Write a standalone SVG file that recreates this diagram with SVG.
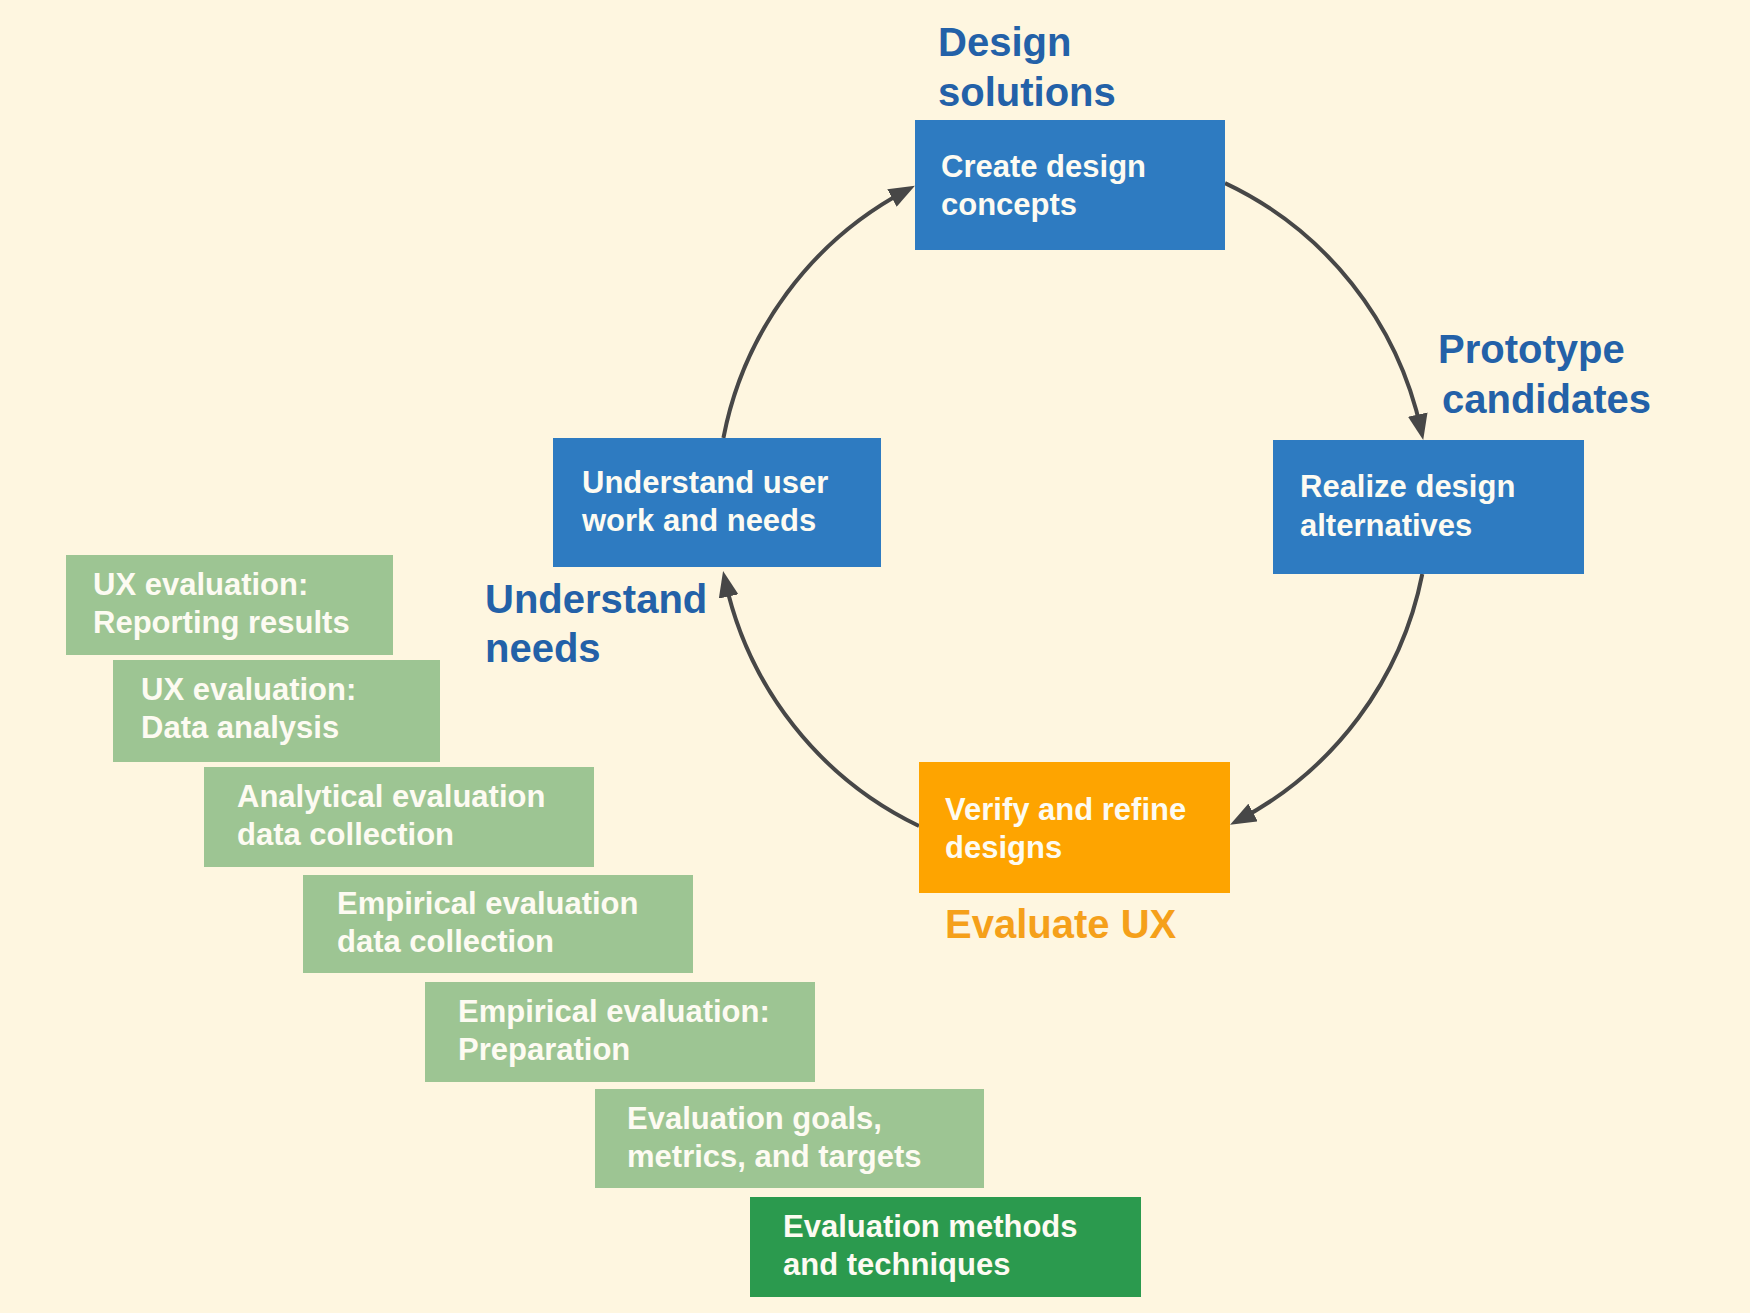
<svg xmlns="http://www.w3.org/2000/svg" width="1750" height="1313" viewBox="0 0 1750 1313">
  <defs>
    <marker id="arrow" markerUnits="userSpaceOnUse" markerWidth="26" markerHeight="20" viewBox="0 0 26 20" refX="16" refY="10" orient="auto">
      <path d="M0,0 L26,10 L0,20 Z" fill="#474747"/>
    </marker>
    <style>
      .bg { fill: #FEF6E0; }
      .blue { fill: #2E7BC1; }
      .orange { fill: #FEA400; }
      .lgreen { fill: #9DC593; }
      .dgreen { fill: #2B9A4E; }
      .t { font-family: "Liberation Sans", Arial, sans-serif; font-weight: bold; font-size: 31px; fill: #FDFBF2; }
      .lbl { font-family: "Liberation Sans", Arial, sans-serif; font-weight: bold; font-size: 40px; }
      .lblue { fill: #2361A8; }
      .lorange { fill: #F5A01A; }
      .conn { fill: none; stroke: #474747; stroke-width: 4; marker-end: url(#arrow); }
    </style>
  </defs>
  <rect class="bg" x="0" y="0" width="1750" height="1313"/>

  <g id="connectors">
    <path class="conn" d="M723.4,438 A356,356 0 0 1 906.1,190.5"/>
    <path class="conn" d="M1225,183.1 A356,356 0 0 1 1421.1,430.2"/>
    <path class="conn" d="M1422.3,574 A356,356 0 0 1 1238.9,820"/>
    <path class="conn" d="M919,826 A356,356 0 0 1 725.2,580.8"/>
  </g>

  <g id="label-design-solutions">
    <text class="lbl lblue" x="938" y="56">Design</text>
    <text class="lbl lblue" x="938" y="106">solutions</text>
  </g>
  <g id="label-prototype-candidates">
    <text class="lbl lblue" x="1438" y="363">Prototype</text>
    <text class="lbl lblue" x="1442" y="413">candidates</text>
  </g>
  <g id="label-understand-needs">
    <text class="lbl lblue" x="485" y="613">Understand</text>
    <text class="lbl lblue" x="485" y="662">needs</text>
  </g>
  <g id="label-evaluate-ux">
    <text class="lbl lorange" x="945" y="938">Evaluate UX</text>
  </g>

  <g id="node-create">
    <rect class="blue" x="915" y="120" width="310" height="130"/>
    <text class="t" x="941" y="177">Create design</text>
    <text class="t" x="941" y="215">concepts</text>
  </g>
  <g id="node-realize">
    <rect class="blue" x="1273" y="440" width="311" height="134"/>
    <text class="t" x="1300" y="497">Realize design</text>
    <text class="t" x="1300" y="536">alternatives</text>
  </g>
  <g id="node-understand">
    <rect class="blue" x="553" y="438" width="328" height="129"/>
    <text class="t" x="582" y="493">Understand user</text>
    <text class="t" x="582" y="531">work and needs</text>
  </g>
  <g id="node-verify">
    <rect class="orange" x="919" y="762" width="311" height="131"/>
    <text class="t" x="945" y="820">Verify and refine</text>
    <text class="t" x="945" y="858">designs</text>
  </g>

  <g id="node-reporting">
    <rect class="lgreen" x="66" y="555" width="327" height="100"/>
    <text class="t" x="93" y="595">UX evaluation:</text>
    <text class="t" x="93" y="633">Reporting results</text>
  </g>
  <g id="node-analysis">
    <rect class="lgreen" x="113" y="660" width="327" height="102"/>
    <text class="t" x="141" y="700">UX evaluation:</text>
    <text class="t" x="141" y="738">Data analysis</text>
  </g>
  <g id="node-analytical">
    <rect class="lgreen" x="204" y="767" width="390" height="100"/>
    <text class="t" x="237" y="807">Analytical evaluation</text>
    <text class="t" x="237" y="845">data collection</text>
  </g>
  <g id="node-empirical-collection">
    <rect class="lgreen" x="303" y="875" width="390" height="98"/>
    <text class="t" x="337" y="914">Empirical evaluation</text>
    <text class="t" x="337" y="952">data collection</text>
  </g>
  <g id="node-empirical-prep">
    <rect class="lgreen" x="425" y="982" width="390" height="100"/>
    <text class="t" x="458" y="1022">Empirical evaluation:</text>
    <text class="t" x="458" y="1060">Preparation</text>
  </g>
  <g id="node-goals">
    <rect class="lgreen" x="595" y="1089" width="389" height="99"/>
    <text class="t" x="627" y="1129">Evaluation goals,</text>
    <text class="t" x="627" y="1167">metrics, and targets</text>
  </g>
  <g id="node-methods">
    <rect class="dgreen" x="750" y="1197" width="391" height="100"/>
    <text class="t" x="783" y="1237">Evaluation methods</text>
    <text class="t" x="783" y="1275">and techniques</text>
  </g>
</svg>
